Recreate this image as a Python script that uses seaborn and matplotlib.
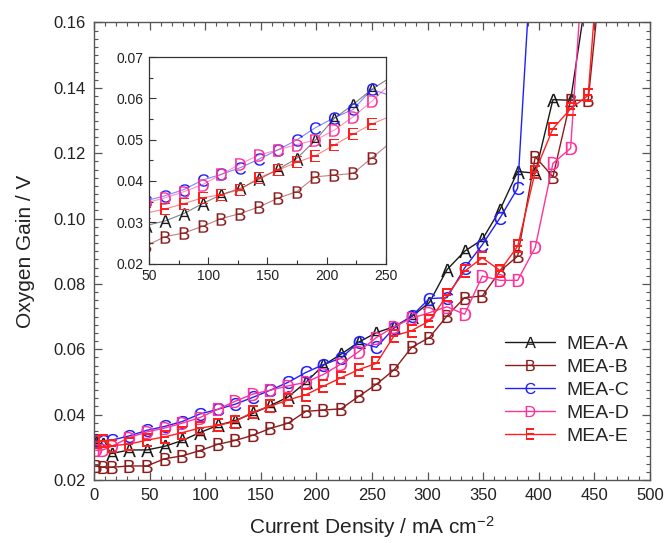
import numpy as np
import pandas as pd
import matplotlib
matplotlib.use("Agg")
import matplotlib.pyplot as plt
from matplotlib.ticker import MultipleLocator, FormatStrFormatter
import seaborn as sns

# Current density sampling points (mA cm^-2)
current = [1.6, 7.9, 15.9, 31.7, 47.6, 63.5, 79.4, 95.2, 111.1, 127.0, 142.9,
           158.7, 174.6, 190.5, 206.3, 222.2, 238.1, 254.0, 269.8, 285.7,
           301.6, 317.5, 333.3, 349.2, 365.1, 381.0, 396.8, 412.7, 428.6,
           444.4, 460.3]

# Oxygen gain (V) for each MEA
gain_a = [0.0312, 0.0310, 0.0281, 0.0292, 0.0292, 0.0303, 0.0321, 0.0345,
          0.0367, 0.0382, 0.0404, 0.0428, 0.0454, 0.0499, 0.0551, 0.0585,
          0.0622, 0.0651, 0.0669, 0.0700, 0.0743, 0.0844, 0.0900, 0.0936,
          0.1027, 0.1144, 0.1139, 0.1364, 0.1362, 0.1720]
gain_b = [0.0243, 0.0240, 0.0239, 0.0243, 0.0243, 0.0265, 0.0274, 0.0290,
          0.0309, 0.0321, 0.0337, 0.0358, 0.0374, 0.0410, 0.0414, 0.0418,
          0.0456, 0.0493, 0.0537, 0.0606, 0.0636, 0.0702, 0.0758, 0.0763,
          0.0839, 0.0885, 0.1189, 0.1128, 0.1362, 0.1362, 0.1900]
gain_c = [0.0322, 0.0318, 0.0322, 0.0335, 0.0352, 0.0364, 0.0379, 0.0402,
          0.0416, 0.0432, 0.0453, 0.0475, 0.0499, 0.0529, 0.0553, 0.0573,
          0.0622, 0.0606, 0.0665, 0.0702, 0.0755, 0.0758, 0.0849, 0.0920,
          0.1002, 0.1093, 0.2000]
gain_d = [0.0291, 0.0292, 0.0303, 0.0330, 0.0347, 0.0359, 0.0374, 0.0391,
          0.0416, 0.0441, 0.0463, 0.0475, 0.0488, 0.0499, 0.0523, 0.0555,
          0.0593, 0.0636, 0.0669, 0.0695, 0.0712, 0.0730, 0.0707, 0.0824,
          0.0811, 0.0811, 0.0912, 0.1169, 0.1215, 0.2020]
gain_e = [0.0317, 0.0320, 0.0305, 0.0310, 0.0322, 0.0332, 0.0345, 0.0359,
          0.0367, 0.0379, 0.0408, 0.0426, 0.0445, 0.0461, 0.0487, 0.0513,
          0.0538, 0.0557, 0.0641, 0.0657, 0.0687, 0.0765, 0.0839, 0.0880,
          0.0841, 0.0915, 0.1144, 0.1275, 0.1336, 0.1377, 0.2100]

labels = ["MEA-A", "MEA-B", "MEA-C", "MEA-D", "MEA-E"]
letters = ["A", "B", "C", "D", "E"]
series = [gain_a, gain_b, gain_c, gain_d, gain_e]
colors = ["#1a1a1a", "#8c1c1c", "#2020ff", "#ff3399", "#ff1f1f"]

frames = []
for name, vals in zip(labels, series):
    frames.append(pd.DataFrame({"current": current[:len(vals)],
                                "gain": vals, "MEA": name}))
data = pd.concat(frames, ignore_index=True)

sns.set_theme(style="ticks")
plt.rcParams["font.family"] = ["Liberation Sans", "DejaVu Sans"]
plt.rcParams["mathtext.fontset"] = "custom"
plt.rcParams["mathtext.rm"] = "Liberation Sans"
plt.rcParams["mathtext.sf"] = "Liberation Sans"
plt.rcParams["mathtext.it"] = "Liberation Sans:italic"

palette = dict(zip(labels, colors))
markers = {lab: r"$\mathsf{%s}$" % let for lab, let in zip(labels, letters)}

fig = plt.figure(figsize=(6.66, 5.43), dpi=100)
ax = fig.add_axes([0.1411, 0.116, 0.8349, 0.8426])

sns.lineplot(data=data, x="current", y="gain", hue="MEA", style="MEA",
             palette=palette, markers=markers, dashes=False, errorbar=None,
             sort=False, ax=ax, linewidth=1.0, markersize=9.5, mew=0)

ax.set_xlim(0, 500)
ax.set_ylim(0.02, 0.16)
ax.xaxis.set_major_locator(MultipleLocator(50))
ax.xaxis.set_minor_locator(MultipleLocator(10))
ax.yaxis.set_major_locator(MultipleLocator(0.02))
ax.yaxis.set_minor_locator(MultipleLocator(0.0025))
ax.yaxis.set_major_formatter(FormatStrFormatter("%.2f"))
ax.tick_params(which="both", direction="in", top=True, right=True,
               color="#555555", labelsize=12, labelcolor="#222222")
ax.tick_params(which="major", length=6, width=0.9, pad=6)
ax.tick_params(which="minor", length=3, width=0.8)
for sp in ax.spines.values():
    sp.set_color("#555555")
    sp.set_linewidth(1.0)
ax.set_xlabel("Current Density / mA cm$^{-2}$", fontsize=15, color="#222222",
              labelpad=8)
ax.set_ylabel("Oxygen Gain / V", fontsize=15, color="#222222", labelpad=13)

leg = ax.legend(loc="center right", bbox_to_anchor=(0.995, 0.197),
                frameon=False, fontsize=14, handlelength=2.6,
                handletextpad=0.6, labelspacing=0.28, markerscale=0.85)

# Inset: zoom of the low current density region
ins = fig.add_axes([0.2237, 0.5147, 0.3559, 0.3803])
sns.lineplot(data=data, x="current", y="gain", hue="MEA", style="MEA",
             palette=palette, markers=markers, dashes=False, errorbar=None,
             sort=False, ax=ins, linewidth=0.8, markersize=9, mew=0,
             legend=False)
for line in ins.get_lines():
    c = line.get_color()
    line.set_alpha(None)
    line.set_color(matplotlib.colors.to_rgba(c, 0.55))
    line.set_markerfacecolor(matplotlib.colors.to_rgba(c, 1.0))
ins.set_xlim(50, 250)
ins.set_ylim(0.02, 0.07)
ins.xaxis.set_major_locator(MultipleLocator(50))
ins.xaxis.set_minor_locator(MultipleLocator(25))
ins.yaxis.set_major_locator(MultipleLocator(0.01))
ins.yaxis.set_minor_locator(MultipleLocator(0.005))
ins.yaxis.set_major_formatter(FormatStrFormatter("%.2f"))
ins.tick_params(which="both", direction="in", top=False, right=False,
                color="#333333", labelsize=10, labelcolor="#222222")
ins.tick_params(which="major", length=5, width=0.8, pad=4)
ins.tick_params(which="minor", length=3, width=0.8)
ins.set_xlabel("")
ins.set_ylabel("")
for sp in ins.spines.values():
    sp.set_visible(True)
    sp.set_color("#333333")
    sp.set_linewidth(0.9)
ins.set_facecolor("white")

fig.savefig("out.png", dpi=100)
